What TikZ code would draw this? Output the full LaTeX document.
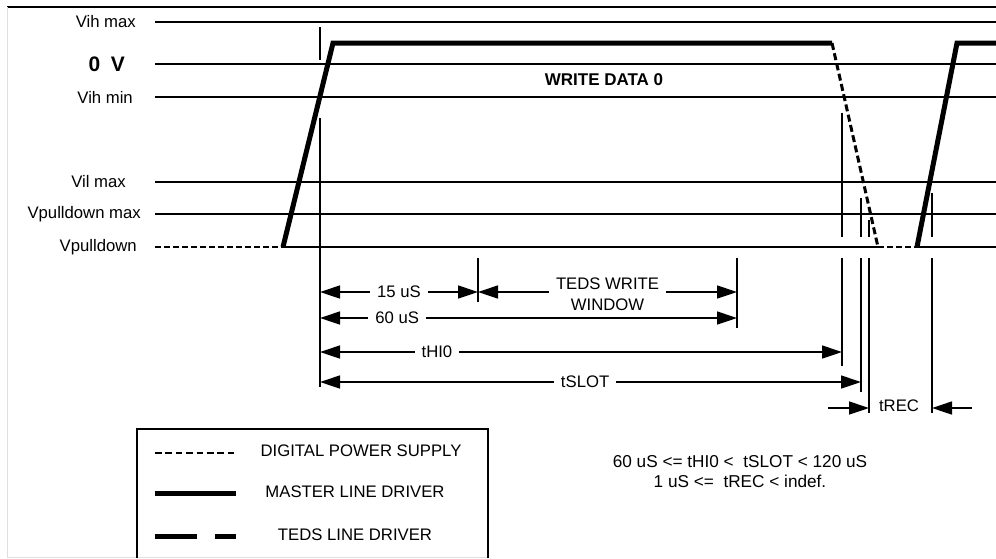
\documentclass[tikz,border=0pt]{standalone}
\usepackage{fontspec}
\setmainfont{Liberation Sans}
\usetikzlibrary{arrows.meta}

\begin{document}
\begin{tikzpicture}[x=1pt, y=-1pt,
    level/.style={line width=1.4pt},
    vline/.style={line width=1.4pt},
    master/.style={line width=5pt},
    supply/.style={line width=3pt, dash pattern=on 7pt off 3.5pt},
    teds/.style={line width=5pt, dash pattern=on 42pt off 18pt},
    dim/.style={line width=1.4pt, {Triangle[length=20pt,width=13pt]}-{Triangle[length=20pt,width=13pt]}},
    lbl/.style={font=\fontsize{16.7}{21}\selectfont, align=center, inner sep=1pt},
    gaplbl/.style={lbl, fill=white, inner xsep=7pt}
]
    \useasboundingbox (0,0) rectangle (996,558);

    % Frame
    \draw[line width=1.3pt] (7,7) -- (996,7);
    \draw[gray!25, line width=1pt] (7,7) -- (7,557) -- (488,557);

    % Voltage levels
    \foreach \y/\txt/\xr in {22/Vih max/137, 97/Vih min/134, 182/Vil max/127,
                             214/Vpulldown max/142} {
        \draw[level] (155,\y) -- (996,\y);
        \node[lbl, anchor=east] at (\xr,\y) {\txt};
    }
    \draw[level] (283,247) -- (878,247);
    \draw[level] (917,247) -- (996,247);
    \node[lbl, anchor=east] (pd) at (138,247) {Vpulldown};
    \draw[line width=2pt] (155,64) -- (996,64);
    \node[lbl, anchor=east, font=\bfseries\fontsize{21}{24}\selectfont] (zero) at (126,64) {0\hspace{0.5em}V};
    \node[lbl, font=\bfseries\fontsize{17}{20}\selectfont] (write) at (604,80) {WRITE DATA 0};

    % Time marks
    \coordinate (t0) at (320,0);
    \coordinate (t1) at (478,0);
    \coordinate (t2) at (737,0);
    \coordinate (t3) at (842,0);
    \coordinate (t4) at (861,0);
    \coordinate (t5) at (869,0);
    \coordinate (t6) at (932,0);

    \draw[vline] (t0 |- 0,27) -- (t0 |- 0,60);
    \draw[vline] (t0 |- 0,118) -- (t0 |- 0,387);
    \draw[vline] (t1 |- 0,258) -- (t1 |- 0,302);
    \draw[vline] (t2 |- 0,258) -- (t2 |- 0,328);
    \foreach \t/\top/\bot in {t3/113/366, t4/198/392, t5/220/413, t6/193/413} {
        \draw[vline] (\t |- 0,\top) -- (\t |- 0,237);
        \draw[vline] (\t |- 0,258) -- (\t |- 0,\bot);
    }

    % Signal
    \draw[supply, line width=2.5pt, dash pattern=on 6pt off 3pt] (155,247) -- (283,247);
    \draw[master] (283,247) -- (333,43) -- (832,43);
    \draw[supply] (832,43) -- (878,247);
    \draw[supply, line width=2.5pt, dash pattern=on 6pt off 3pt] (878,247) -- (917,247);
    \draw[master] (917,247) -- (957,43) -- (996,43);

    % Timing arrows
    \coordinate (r1) at (0,292);
    \coordinate (r2) at (0,318);
    \coordinate (r3) at (0,352);
    \coordinate (r4) at (0,382);
    \coordinate (r5) at (0,408);
    \draw[dim] (t0 |- r1) -- node[gaplbl] (l15) {15 uS} (t1 |- r1);
    \draw[dim] (t1 |- r1) -- node[gaplbl, yshift=-2pt] (lwin) {TEDS WRITE\\WINDOW} (t2 |- r1);
    \draw[dim] (t0 |- r2) -- node[gaplbl, pos=0.185] (l60) {60 uS} (t2 |- r2);
    \draw[dim] (t0 |- r3) -- node[gaplbl, pos=0.224] (lhi) {tHI0} (t3 |- r3);
    \draw[dim] (t0 |- r4) -- node[gaplbl, pos=0.49] (lslot) {tSLOT} (t4 |- r4);
    \coordinate (recl) at (828,408);
    \coordinate (recr) at (972,408);
    \draw[line width=1.4pt, -{Triangle[length=20pt,width=13pt]}] (recl) -- (t5 |- r5);
    \draw[line width=1.4pt, -{Triangle[length=20pt,width=13pt]}] (recr) -- (t6 |- r5);
    \node[lbl] (lrec) at (899,406) {tREC};

    % Limits
    \node[lbl, font=\fontsize{17.2}{20}\selectfont] (limits) at (740,472)
        {60 uS <= tHI0 <\ \ tSLOT < 120 uS\\1 uS <=\ \ tREC < indef.};

    % Legend
    \draw[line width=1.6pt] (137,558) -- (137,429) -- (488,429) -- (488,558);
    \draw[supply, line width=2.2pt, dash pattern=on 6.5pt off 3.9pt] (155,453) -- (236,453);
    \draw[master] (155,493) -- (236,493);
    \draw[teds] (155,536) -- (236,536);
    \node[lbl] (lsup) at (361,451) {DIGITAL POWER SUPPLY};
    \node[lbl] (lmas) at (355,492) {MASTER LINE DRIVER};
    \node[lbl] (lted) at (355,535) {TEDS LINE DRIVER};
\end{tikzpicture}
\end{document}
